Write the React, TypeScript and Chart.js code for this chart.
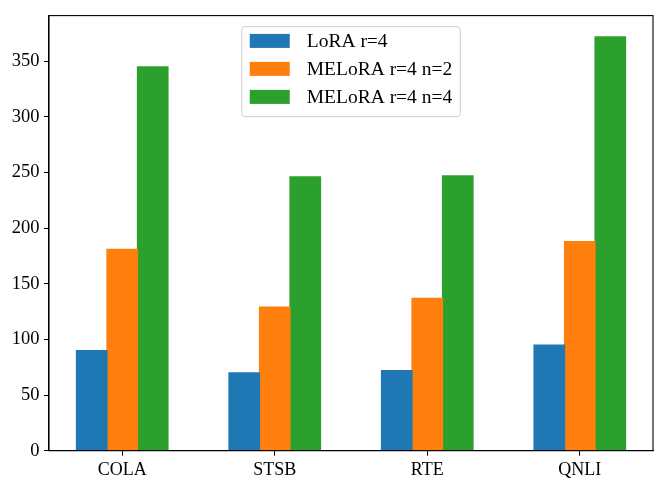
import { useEffect, useRef } from 'react';
import { Chart, registerables, type Plugin } from 'chart.js';

Chart.register(...registerables);

const categories = ['COLA', 'STSB', 'RTE', 'QNLI'];
const seriesLabels = ['LoRA r=4', 'MELoRA r=4 n=2', 'MELoRA r=4 n=4'];
const loraR4 = [90, 70, 72, 95];
const meloraN2 = [181, 129, 137, 188];
const meloraN4 = [345, 246, 247, 372];
const yTicks = [0, 50, 100, 150, 200, 250, 300, 350];

const colors = ['#1f77b4', '#ff7f0e', '#2ca02c'];
const FONT = "'Liberation Serif', 'Times New Roman', serif";

// axes frame (all four spines)
const framePlugin: Plugin<'bar'> = {
  id: 'frame',
  afterDraw(chart) {
    const { ctx, chartArea: a } = chart;
    ctx.save();
    ctx.strokeStyle = '#000';
    ctx.lineWidth = 1.1;
    ctx.strokeRect(a.left, a.top, a.right - a.left, a.bottom - a.top);
    ctx.restore();
  },
};

// matplotlib style "upper center" legend box
const legendPlugin: Plugin<'bar'> = {
  id: 'mplLegend',
  afterDraw(chart) {
    const { ctx, chartArea: a } = chart;
    const sets = chart.data.datasets;
    ctx.save();
    ctx.font = `19.5px ${FONT}`;
    const textW = Math.max(...sets.map((d) => ctx.measureText(String(d.label)).width));
    const w = 8 + 40 + 17 + textW + 8;
    const h = 90;
    const x = (a.left + a.right) / 2 - w / 2;
    const y = a.top + 11;
    ctx.beginPath();
    ctx.roundRect(x, y, w, h, 3);
    ctx.fillStyle = 'rgba(255,255,255,0.8)';
    ctx.fill();
    ctx.strokeStyle = '#cccccc';
    ctx.lineWidth = 1;
    ctx.stroke();
    sets.forEach((d, i) => {
      const cy = y + 14.3 + i * 28;
      ctx.fillStyle = String(d.backgroundColor);
      ctx.fillRect(x + 8, cy - 7, 40, 14);
      ctx.fillStyle = '#000';
      ctx.textBaseline = 'middle';
      ctx.textAlign = 'left';
      ctx.fillText(String(d.label), x + 8 + 40 + 17, cy + 1);
    });
    ctx.restore();
  },
};

export default function App() {
  const canvasRef = useRef<HTMLCanvasElement>(null);
  const chartRef = useRef<Chart<'bar'> | null>(null);

  useEffect(() => {
    if (!canvasRef.current) return;
    const context = canvasRef.current.getContext('2d');
    if (!context) return;

    const series = [loraR4, meloraN2, meloraN4];

    chartRef.current = new Chart(context, {
      type: 'bar',
      data: {
        datasets: series.map((values, s) => ({
          label: seriesLabels[s],
          data: values.map((v, i) => ({ x: i, y: v })),
          backgroundColor: colors[s],
          borderWidth: 0,
          inflateAmount: 0.6,
          categoryPercentage: 0.6,
          barPercentage: 1.0,
        })),
      },
      options: {
        animation: false,
        responsive: true,
        maintainAspectRatio: false,
        layout: { padding: { left: 0, right: 11, top: 10.7, bottom: 0 } },
        plugins: {
          legend: { display: false },
          tooltip: { enabled: false },
        },
        scales: {
          x: {
            type: 'linear',
            min: -0.48,
            max: 3.48,
            offset: false,
            afterBuildTicks(scale) {
              scale.ticks = categories.map((_, i) => ({ value: i }));
            },
            afterFit(scale) {
              scale.height = 39.3;
            },
            ticks: {
              callback: (v) => categories[Number(v)] ?? '',
              color: '#000',
              font: { family: FONT, size: 18 },
              padding: 3.5,
              maxRotation: 0,
              autoSkip: false,
            },
            grid: {
              offset: false,
              drawOnChartArea: false,
              drawTicks: true,
              tickLength: 5,
              color: '#000',
              lineWidth: 1,
            },
            border: { display: true, color: '#000', width: 1.1 },
          },
          y: {
            min: 0,
            max: 391,
            afterBuildTicks(scale) {
              scale.ticks = yTicks.map((v) => ({ value: v }));
            },
            afterFit(scale) {
              scale.width = 49;
            },
            ticks: {
              color: '#000',
              font: { family: FONT, size: 18.5 },
              padding: 4.5,
            },
            grid: {
              drawOnChartArea: false,
              drawTicks: true,
              tickLength: 5,
              color: '#000',
              lineWidth: 1,
            },
            border: { display: true, color: '#000', width: 1.1 },
          },
        },
      },
      plugins: [framePlugin, legendPlugin],
    });

    return () => {
      chartRef.current?.destroy();
    };
  }, []);

  return (
    <div style={{ position: 'absolute', left: 0, top: 0, width: 664, height: 490, background: '#fff' }}>
      <canvas ref={canvasRef} />
    </div>
  );
}
